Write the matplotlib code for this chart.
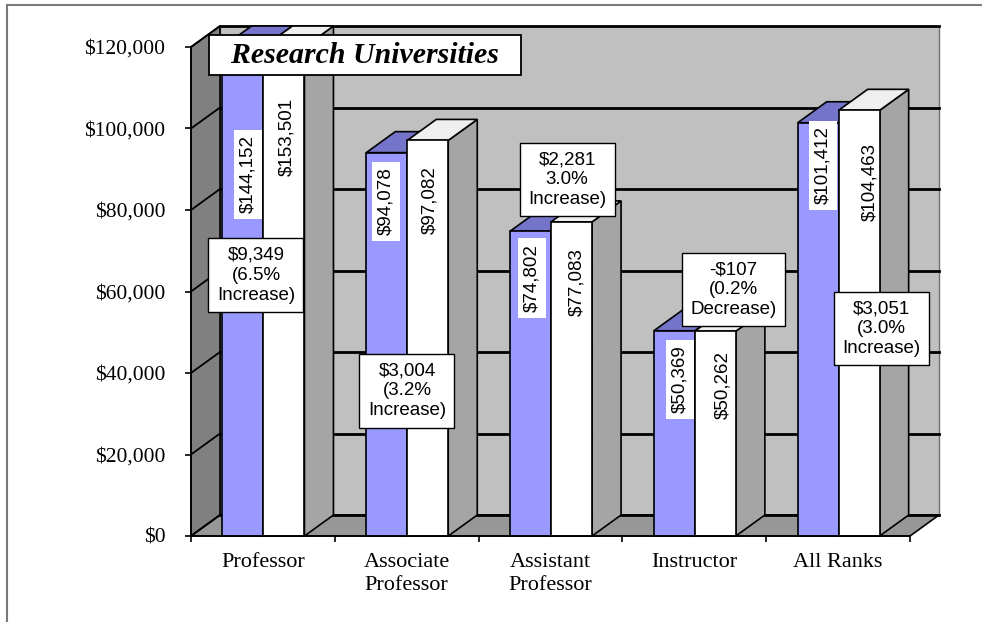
import matplotlib
matplotlib.use('Agg')
import matplotlib.pyplot as plt
from matplotlib.patches import Polygon
from matplotlib.lines import Line2D
from matplotlib.ticker import FuncFormatter

# ---- data ----
categories = ['Professor', 'Associate\nProfessor', 'Assistant\nProfessor', 'Instructor', 'All Ranks']
prev_year = [144152, 94078, 74802, 50369, 101412]
this_year = [153501, 97082, 77083, 50262, 104463]
diff_labels = ['$9,349\n(6.5%\nIncrease)', '$3,004\n(3.2%\nIncrease)', '$2,281\n3.0%\nIncrease)',
               '-$107\n(0.2%\nDecrease)', '$3,051\n(3.0%\nIncrease)']
title = 'Research Universities'

# label placement (data units) -- moved by hand in the original
prev_lab_pos = [(0.396, 88800), (1.356, 82200), (2.371, 63300), (3.40, 38500), (4.395, 91000)]
this_lab_pos = [(0.668, 98000), (1.662, 82400), (2.684, 62300), (3.70, 37000), (4.722, 86900)]
diff_pos = [(0.452, 64000), (1.502, 35600), (2.615, 87500), (3.773, 60500), (4.802, 50900)]

YMAX = 120000
DX, DY = 0.2017, 5150          # 3d depth offset in data units
BW, OFF = 0.285, 0.219         # bar width, offset of first bar in its slot

PURPLE, PURPLE_TOP = '#9999FF', '#7474CA'
WHITE, WHITE_TOP = '#FFFFFF', '#EFEFEF'
SIDE = '#A5A5A5'
BACK, LEFT, FLOOR = '#C0C0C0', '#808080', '#979797'

SERIF = 'Liberation Serif'
SANS = 'Liberation Sans'

fig = plt.figure(figsize=(9.82, 6.22), dpi=100)
ax = fig.add_axes([191/982, (622-536)/622, (910-191)/982, (536-47)/622])
ax.set_xlim(0, 5); ax.set_ylim(0, YMAX)
ax.set_facecolor('none')
n = len(categories)


def poly(pts, c, z, ec='black', lw=1.2):
    ax.add_patch(Polygon(pts, closed=True, facecolor=c, edgecolor=ec, linewidth=lw,
                         zorder=z, clip_on=False, joinstyle='miter'))


# walls and floor
poly([(DX, DY), (n+DX, DY), (n+DX, YMAX+DY), (DX, YMAX+DY)], BACK, 1, ec='#707070', lw=1)
poly([(0, 0), (DX, DY), (DX, YMAX+DY), (0, YMAX)], LEFT, 1)
poly([(0, 0), (n, 0), (n+DX, DY), (DX, DY)], FLOOR, 1)

ticks = list(range(0, YMAX+1, 20000))
for v in ticks:
    ax.add_line(Line2D([DX, n+DX], [v+DY, v+DY], color='black', lw=2, zorder=2, clip_on=False))
    ax.add_line(Line2D([0, DX], [v, v+DY], color='black', lw=1.3, zorder=2, clip_on=False))


def bar3d(x0, h, front, top, z):
    h = min(h, YMAX)
    poly([(x0+BW, 0), (x0+BW+DX, DY), (x0+BW+DX, h+DY), (x0+BW, h)], SIDE, z)
    poly([(x0, h), (x0+BW, h), (x0+BW+DX, h+DY), (x0+DX, h+DY)], top, z)
    poly([(x0, 0), (x0+BW, 0), (x0+BW, h), (x0, h)], front, z)


for i in range(n):
    bar3d(i + OFF, prev_year[i], PURPLE, PURPLE_TOP, 3)
    bar3d(i + OFF + BW, this_year[i], WHITE, WHITE_TOP, 4)

# value labels
for i in range(n):
    x, y = prev_lab_pos[i]
    ax.text(x, y, f'${prev_year[i]:,}', rotation=90, ha='center', va='center', fontsize=13.5,
            family=SANS, zorder=6, bbox=dict(boxstyle='square,pad=0.3', fc='white', ec='none'))
    x, y = this_lab_pos[i]
    ax.text(x, y, f'${this_year[i]:,}', rotation=90, ha='center', va='center', fontsize=13.5,
            family=SANS, zorder=6)
    x, y = diff_pos[i]
    ax.text(x, y, diff_labels[i], ha='center', va='center', fontsize=13.5, family=SANS,
            linespacing=1.22, zorder=7,
            bbox=dict(boxstyle='square,pad=0.45', fc='white', ec='black', lw=1))

ax.text(1.21, 118000, '  ' + title + '  ', ha='center', va='center', fontsize=21.5, family=SERIF,
        style='italic', weight='bold', zorder=8,
        bbox=dict(boxstyle='square,pad=0.22', fc='white', ec='black', lw=1.3))

# axes
for s in ['top', 'right']:
    ax.spines[s].set_visible(False)
for s in ['left', 'bottom']:
    ax.spines[s].set_color('black'); ax.spines[s].set_linewidth(1.2); ax.spines[s].set_zorder(5)
ax.set_yticks(ticks)
ax.yaxis.set_major_formatter(FuncFormatter(lambda v, p: f'${int(v):,}'))
ax.tick_params(axis='y', length=4.5, width=1.2, pad=14, labelsize=15.5, direction='out')
for t in ax.get_yticklabels():
    t.set_family(SERIF)
ax.set_xticks(range(n+1))
ax.set_xticklabels([])
ax.tick_params(axis='x', which='major', length=4.5, width=1.2, direction='out')
ax.set_xticks([i + 0.5 for i in range(n)], minor=True)
ax.set_xticklabels(categories, minor=True, fontsize=16, family=SERIF, linespacing=1.3)
ax.tick_params(axis='x', which='minor', length=0, pad=12)

# outer chart frame (clipped at right/bottom)
fig.add_artist(Line2D([7/982, 1], [1-4.5/622, 1-4.5/622], transform=fig.transFigure, color='#7a7a7a', lw=1.5))
fig.add_artist(Line2D([7/982, 7/982], [0, 1-4.5/622], transform=fig.transFigure, color='#7a7a7a', lw=1.5))

fig.savefig('out.png', dpi=100, facecolor='white')
